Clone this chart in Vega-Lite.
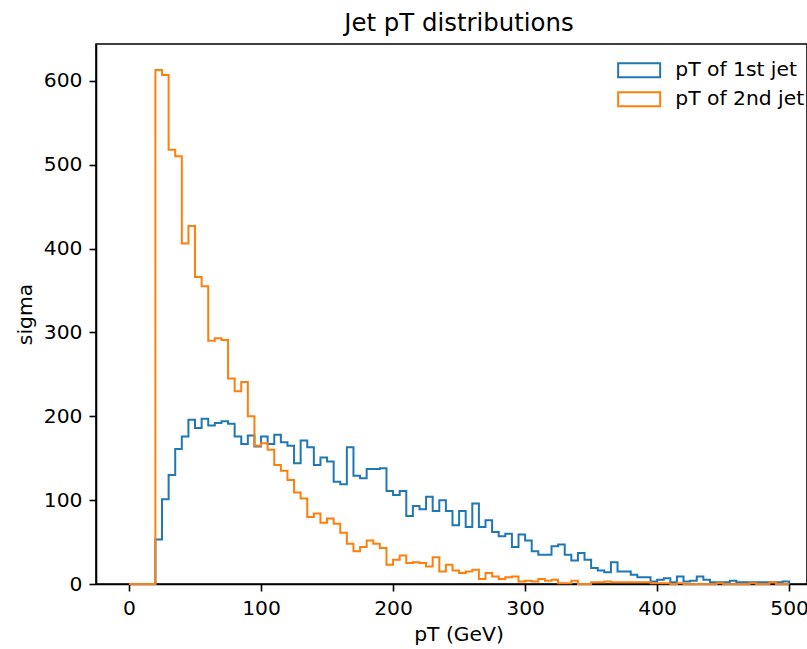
{
  "$schema": "https://vega.github.io/schema/vega-lite/v6.json",
  "width": 711,
  "height": 540,
  "autosize": {"type": "none"},
  "padding": {"left": 96, "top": 44, "right": 0, "bottom": 65},
  "background": "white",
  "title": {"text": "Jet pT distributions", "font": "DejaVu Sans", "fontSize": 24.4, "fontWeight": "normal", "color": "black", "baseline": "alphabetic", "offset": -11, "dx": 7.5},
  "config": {
    "view": {"stroke": "black", "strokeWidth": 1.6},
    "axis": {"domainColor": "black", "domainWidth": 1.6, "tickColor": "black", "tickWidth": 1.6, "tickSize": 7, "labelFont": "DejaVu Sans", "labelFontSize": 20.3, "labelColor": "black", "labelPadding": 7, "titleFont": "DejaVu Sans", "titleFontSize": 20.3, "titleFontWeight": "normal", "titleColor": "black", "grid": false},
    "legend": {"padding": 0}
  },
  "data": {"values": [
    {"series":"pT of 1st jet","pT":0,"sigma":0},{"series":"pT of 1st jet","pT":5,"sigma":0},{"series":"pT of 1st jet","pT":10,"sigma":0},{"series":"pT of 1st jet","pT":15,"sigma":0},{"series":"pT of 1st jet","pT":20,"sigma":53},{"series":"pT of 1st jet","pT":25,"sigma":101},{"series":"pT of 1st jet","pT":30,"sigma":130},{"series":"pT of 1st jet","pT":35,"sigma":161},{"series":"pT of 1st jet","pT":40,"sigma":176},{"series":"pT of 1st jet","pT":45,"sigma":196},
    {"series":"pT of 1st jet","pT":50,"sigma":186},{"series":"pT of 1st jet","pT":55,"sigma":197},{"series":"pT of 1st jet","pT":60,"sigma":189},{"series":"pT of 1st jet","pT":65,"sigma":192},{"series":"pT of 1st jet","pT":70,"sigma":194},{"series":"pT of 1st jet","pT":75,"sigma":191},{"series":"pT of 1st jet","pT":80,"sigma":176},{"series":"pT of 1st jet","pT":85,"sigma":167},{"series":"pT of 1st jet","pT":90,"sigma":177},{"series":"pT of 1st jet","pT":95,"sigma":164},
    {"series":"pT of 1st jet","pT":100,"sigma":176},{"series":"pT of 1st jet","pT":105,"sigma":167},{"series":"pT of 1st jet","pT":110,"sigma":178},{"series":"pT of 1st jet","pT":115,"sigma":169},{"series":"pT of 1st jet","pT":120,"sigma":165},{"series":"pT of 1st jet","pT":125,"sigma":144},{"series":"pT of 1st jet","pT":130,"sigma":171},{"series":"pT of 1st jet","pT":135,"sigma":163},{"series":"pT of 1st jet","pT":140,"sigma":142},{"series":"pT of 1st jet","pT":145,"sigma":151},
    {"series":"pT of 1st jet","pT":150,"sigma":146},{"series":"pT of 1st jet","pT":155,"sigma":122},{"series":"pT of 1st jet","pT":160,"sigma":119},{"series":"pT of 1st jet","pT":165,"sigma":163},{"series":"pT of 1st jet","pT":170,"sigma":129},{"series":"pT of 1st jet","pT":175,"sigma":126},{"series":"pT of 1st jet","pT":180,"sigma":137},{"series":"pT of 1st jet","pT":185,"sigma":137},{"series":"pT of 1st jet","pT":190,"sigma":138},{"series":"pT of 1st jet","pT":195,"sigma":111},
    {"series":"pT of 1st jet","pT":200,"sigma":106},{"series":"pT of 1st jet","pT":205,"sigma":111},{"series":"pT of 1st jet","pT":210,"sigma":81},{"series":"pT of 1st jet","pT":215,"sigma":93},{"series":"pT of 1st jet","pT":220,"sigma":89},{"series":"pT of 1st jet","pT":225,"sigma":104},{"series":"pT of 1st jet","pT":230,"sigma":87},{"series":"pT of 1st jet","pT":235,"sigma":100},{"series":"pT of 1st jet","pT":240,"sigma":87},{"series":"pT of 1st jet","pT":245,"sigma":70},
    {"series":"pT of 1st jet","pT":250,"sigma":87},{"series":"pT of 1st jet","pT":255,"sigma":68},{"series":"pT of 1st jet","pT":260,"sigma":96},{"series":"pT of 1st jet","pT":265,"sigma":68},{"series":"pT of 1st jet","pT":270,"sigma":76},{"series":"pT of 1st jet","pT":275,"sigma":62},{"series":"pT of 1st jet","pT":280,"sigma":57},{"series":"pT of 1st jet","pT":285,"sigma":60},{"series":"pT of 1st jet","pT":290,"sigma":44},{"series":"pT of 1st jet","pT":295,"sigma":59},
    {"series":"pT of 1st jet","pT":300,"sigma":52},{"series":"pT of 1st jet","pT":305,"sigma":39},{"series":"pT of 1st jet","pT":310,"sigma":35},{"series":"pT of 1st jet","pT":315,"sigma":35},{"series":"pT of 1st jet","pT":320,"sigma":45},{"series":"pT of 1st jet","pT":325,"sigma":47},{"series":"pT of 1st jet","pT":330,"sigma":35},{"series":"pT of 1st jet","pT":335,"sigma":28},{"series":"pT of 1st jet","pT":340,"sigma":37},{"series":"pT of 1st jet","pT":345,"sigma":29},
    {"series":"pT of 1st jet","pT":350,"sigma":19},{"series":"pT of 1st jet","pT":355,"sigma":16},{"series":"pT of 1st jet","pT":360,"sigma":14},{"series":"pT of 1st jet","pT":365,"sigma":26},{"series":"pT of 1st jet","pT":370,"sigma":15},{"series":"pT of 1st jet","pT":375,"sigma":15},{"series":"pT of 1st jet","pT":380,"sigma":11},{"series":"pT of 1st jet","pT":385,"sigma":8},{"series":"pT of 1st jet","pT":390,"sigma":8},{"series":"pT of 1st jet","pT":395,"sigma":3},
    {"series":"pT of 1st jet","pT":400,"sigma":5},{"series":"pT of 1st jet","pT":405,"sigma":7},{"series":"pT of 1st jet","pT":410,"sigma":2},{"series":"pT of 1st jet","pT":415,"sigma":9},{"series":"pT of 1st jet","pT":420,"sigma":3},{"series":"pT of 1st jet","pT":425,"sigma":4},{"series":"pT of 1st jet","pT":430,"sigma":9},{"series":"pT of 1st jet","pT":435,"sigma":5},{"series":"pT of 1st jet","pT":440,"sigma":2},{"series":"pT of 1st jet","pT":445,"sigma":2},
    {"series":"pT of 1st jet","pT":450,"sigma":2},{"series":"pT of 1st jet","pT":455,"sigma":4},{"series":"pT of 1st jet","pT":460,"sigma":2},{"series":"pT of 1st jet","pT":465,"sigma":2},{"series":"pT of 1st jet","pT":470,"sigma":2},{"series":"pT of 1st jet","pT":475,"sigma":2},{"series":"pT of 1st jet","pT":480,"sigma":2},{"series":"pT of 1st jet","pT":485,"sigma":2},{"series":"pT of 1st jet","pT":490,"sigma":2},{"series":"pT of 1st jet","pT":495,"sigma":3},
    {"series":"pT of 1st jet","pT":500,"sigma":0},
    {"series":"pT of 2nd jet","pT":0,"sigma":0},{"series":"pT of 2nd jet","pT":5,"sigma":0},{"series":"pT of 2nd jet","pT":10,"sigma":0},{"series":"pT of 2nd jet","pT":15,"sigma":0},{"series":"pT of 2nd jet","pT":20,"sigma":613},{"series":"pT of 2nd jet","pT":25,"sigma":607},{"series":"pT of 2nd jet","pT":30,"sigma":518},{"series":"pT of 2nd jet","pT":35,"sigma":510},{"series":"pT of 2nd jet","pT":40,"sigma":406},{"series":"pT of 2nd jet","pT":45,"sigma":427},
    {"series":"pT of 2nd jet","pT":50,"sigma":366},{"series":"pT of 2nd jet","pT":55,"sigma":355},{"series":"pT of 2nd jet","pT":60,"sigma":290},{"series":"pT of 2nd jet","pT":65,"sigma":293},{"series":"pT of 2nd jet","pT":70,"sigma":291},{"series":"pT of 2nd jet","pT":75,"sigma":245},{"series":"pT of 2nd jet","pT":80,"sigma":230},{"series":"pT of 2nd jet","pT":85,"sigma":241},{"series":"pT of 2nd jet","pT":90,"sigma":200},{"series":"pT of 2nd jet","pT":95,"sigma":165},
    {"series":"pT of 2nd jet","pT":100,"sigma":168},{"series":"pT of 2nd jet","pT":105,"sigma":160},{"series":"pT of 2nd jet","pT":110,"sigma":142},{"series":"pT of 2nd jet","pT":115,"sigma":135},{"series":"pT of 2nd jet","pT":120,"sigma":124},{"series":"pT of 2nd jet","pT":125,"sigma":109},{"series":"pT of 2nd jet","pT":130,"sigma":102},{"series":"pT of 2nd jet","pT":135,"sigma":80},{"series":"pT of 2nd jet","pT":140,"sigma":84},{"series":"pT of 2nd jet","pT":145,"sigma":73},
    {"series":"pT of 2nd jet","pT":150,"sigma":78},{"series":"pT of 2nd jet","pT":155,"sigma":72},{"series":"pT of 2nd jet","pT":160,"sigma":61},{"series":"pT of 2nd jet","pT":165,"sigma":48},{"series":"pT of 2nd jet","pT":170,"sigma":39},{"series":"pT of 2nd jet","pT":175,"sigma":44},{"series":"pT of 2nd jet","pT":180,"sigma":52},{"series":"pT of 2nd jet","pT":185,"sigma":48},{"series":"pT of 2nd jet","pT":190,"sigma":43},{"series":"pT of 2nd jet","pT":195,"sigma":23},
    {"series":"pT of 2nd jet","pT":200,"sigma":29},{"series":"pT of 2nd jet","pT":205,"sigma":34},{"series":"pT of 2nd jet","pT":210,"sigma":25},{"series":"pT of 2nd jet","pT":215,"sigma":26},{"series":"pT of 2nd jet","pT":220,"sigma":25},{"series":"pT of 2nd jet","pT":225,"sigma":21},{"series":"pT of 2nd jet","pT":230,"sigma":32},{"series":"pT of 2nd jet","pT":235,"sigma":15},{"series":"pT of 2nd jet","pT":240,"sigma":23},{"series":"pT of 2nd jet","pT":245,"sigma":16},
    {"series":"pT of 2nd jet","pT":250,"sigma":13},{"series":"pT of 2nd jet","pT":255,"sigma":15},{"series":"pT of 2nd jet","pT":260,"sigma":17},{"series":"pT of 2nd jet","pT":265,"sigma":6},{"series":"pT of 2nd jet","pT":270,"sigma":13},{"series":"pT of 2nd jet","pT":275,"sigma":9},{"series":"pT of 2nd jet","pT":280,"sigma":6},{"series":"pT of 2nd jet","pT":285,"sigma":8},{"series":"pT of 2nd jet","pT":290,"sigma":9},{"series":"pT of 2nd jet","pT":295,"sigma":3},
    {"series":"pT of 2nd jet","pT":300,"sigma":4},{"series":"pT of 2nd jet","pT":305,"sigma":3},{"series":"pT of 2nd jet","pT":310,"sigma":6},{"series":"pT of 2nd jet","pT":315,"sigma":4},{"series":"pT of 2nd jet","pT":320,"sigma":5},{"series":"pT of 2nd jet","pT":325,"sigma":1},{"series":"pT of 2nd jet","pT":330,"sigma":1},{"series":"pT of 2nd jet","pT":335,"sigma":4},{"series":"pT of 2nd jet","pT":340,"sigma":0},{"series":"pT of 2nd jet","pT":345,"sigma":0},
    {"series":"pT of 2nd jet","pT":350,"sigma":2},{"series":"pT of 2nd jet","pT":355,"sigma":2},{"series":"pT of 2nd jet","pT":360,"sigma":3},{"series":"pT of 2nd jet","pT":365,"sigma":2},{"series":"pT of 2nd jet","pT":370,"sigma":2},{"series":"pT of 2nd jet","pT":375,"sigma":2},{"series":"pT of 2nd jet","pT":380,"sigma":2},{"series":"pT of 2nd jet","pT":385,"sigma":2},{"series":"pT of 2nd jet","pT":390,"sigma":2},{"series":"pT of 2nd jet","pT":395,"sigma":1},
    {"series":"pT of 2nd jet","pT":400,"sigma":1},{"series":"pT of 2nd jet","pT":405,"sigma":1},{"series":"pT of 2nd jet","pT":410,"sigma":0},{"series":"pT of 2nd jet","pT":415,"sigma":1},{"series":"pT of 2nd jet","pT":420,"sigma":0},{"series":"pT of 2nd jet","pT":425,"sigma":0},{"series":"pT of 2nd jet","pT":430,"sigma":0},{"series":"pT of 2nd jet","pT":435,"sigma":0},{"series":"pT of 2nd jet","pT":440,"sigma":0},{"series":"pT of 2nd jet","pT":445,"sigma":1},
    {"series":"pT of 2nd jet","pT":450,"sigma":0},{"series":"pT of 2nd jet","pT":455,"sigma":0},{"series":"pT of 2nd jet","pT":460,"sigma":0},{"series":"pT of 2nd jet","pT":465,"sigma":0},{"series":"pT of 2nd jet","pT":470,"sigma":1},{"series":"pT of 2nd jet","pT":475,"sigma":0},{"series":"pT of 2nd jet","pT":480,"sigma":0},{"series":"pT of 2nd jet","pT":485,"sigma":2},{"series":"pT of 2nd jet","pT":490,"sigma":0},{"series":"pT of 2nd jet","pT":495,"sigma":0},
    {"series":"pT of 2nd jet","pT":500,"sigma":0}
  ]},
  "mark": {"type": "line", "interpolate": "step-after", "strokeWidth": 2, "strokeJoin": "miter", "strokeCap": "butt"},
  "encoding": {
    "x": {"field": "pT", "type": "quantitative", "scale": {"domain": [-25, 513.5], "nice": false, "zero": false}, "axis": {"values": [0, 100, 200, 300, 400, 500], "title": "pT (GeV)", "titlePadding": 6, "titleX": 362.5}},
    "y": {"field": "sigma", "type": "quantitative", "scale": {"domain": [0, 644], "nice": false}, "axis": {"values": [0, 100, 200, 300, 400, 500, 600], "title": "sigma", "titlePadding": 8}},
    "color": {"field": "series", "type": "nominal", "scale": {"domain": ["pT of 1st jet", "pT of 2nd jet"], "range": ["#1f77b4", "#ff7f0e"]},
      "legend": {"orient": "none", "legendX": 519, "legendY": 16, "title": null, "symbolType": "M-1,-1H5V1H-1Z", "symbolSize": 196, "symbolStrokeWidth": 2, "symbolFillColor": "transparent", "labelFont": "DejaVu Sans", "labelFontSize": 20.3, "labelColor": "black", "labelOffset": 40, "rowPadding": 6}}
  }
}
